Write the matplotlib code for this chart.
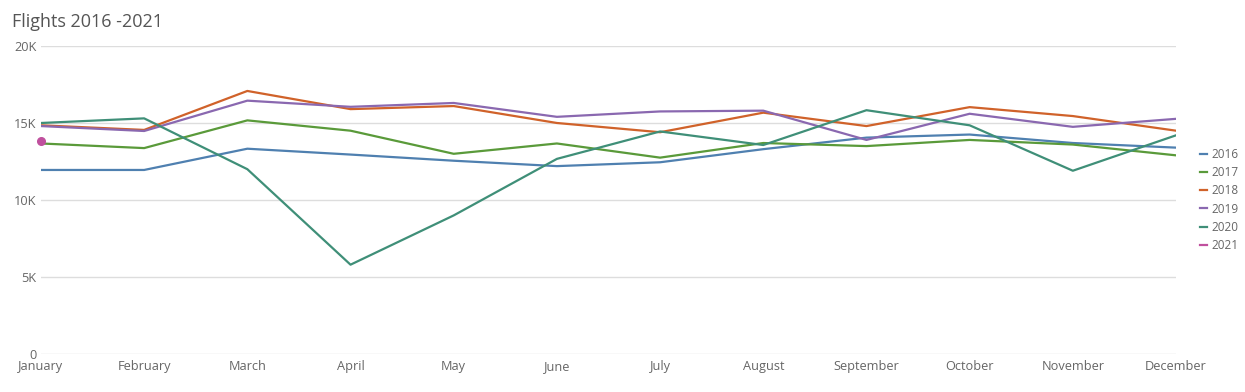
import numpy as np
import matplotlib
matplotlib.use('Agg')
import matplotlib.pyplot as plt
from matplotlib.ticker import FuncFormatter

plt.rcParams['font.family'] = ['Open Sans', 'DejaVu Sans']

# Monthly flight counts
months = ['January', 'February', 'March', 'April', 'May', 'June',
          'July', 'August', 'September', 'October', 'November', 'December']
flights_2016 = [11950, 11950, 13330, 12950, 12550, 12200,
                12450, 13300, 14050, 14250, 13700, 13400]
flights_2017 = [13670, 13370, 15170, 14500, 13000, 13670,
                12750, 13700, 13500, 13900, 13600, 12900]
flights_2018 = [14850, 14550, 17080, 15900, 16100, 15000,
                14400, 15670, 14800, 16030, 15450, 14500]
flights_2019 = [14800, 14480, 16450, 16050, 16300, 15400,
                15750, 15800, 13900, 15600, 14750, 15270]
flights_2020 = [15000, 15300, 12000, 5800, 9000, 12670,
                14450, 13570, 15830, 14850, 11900, 14200]
flights_2021 = [13850]

series = [
    ('2016', flights_2016, '#4f80b0'),
    ('2017', flights_2017, '#5a9a3a'),
    ('2018', flights_2018, '#d0622a'),
    ('2019', flights_2019, '#8a68b0'),
    ('2020', flights_2020, '#3f8f78'),
    ('2021', flights_2021, '#c0509e'),
]

fig = plt.figure(figsize=(12.45, 3.92), dpi=100)
ax = fig.add_axes([0.0329, 0.0969, 0.9117, 0.7858])

x = np.arange(len(months))
for label, values, color in series:
    if len(values) == 1:
        ax.plot(x[:1], values, color=color, marker='o', markersize=5.5,
                linestyle='none', label=label, zorder=4, clip_on=False)
    else:
        ax.plot(x[:len(values)], values, color=color, linewidth=1.6,
                label=label, zorder=3)

ax.set_xlim(0, len(months) - 1)
ax.set_ylim(0, 20000)
ax.set_yticks([0, 5000, 10000, 15000, 20000])
ax.yaxis.set_major_formatter(FuncFormatter(lambda v, p: '0' if v == 0 else f'{int(v/1000)}K'))
ax.set_xticks(x)
ax.set_xticklabels(months)
ax.tick_params(axis='both', length=0, labelsize=9.2, labelcolor='#666666')
ax.tick_params(axis='y', pad=3)
ax.tick_params(axis='x', pad=4)

ax.grid(axis='y', color='#dddddd', linewidth=1)
ax.set_axisbelow(True)
for s in ax.spines.values():
    s.set_visible(False)

fig.text(0.0096, 0.945, 'Flights 2016 -2021', fontsize=13, color='#555555',
         ha='left', va='center')

handles = [plt.Line2D([], [], color=c, linewidth=1.6) for _, _, c in series]
labels = [s[0] for s in series]
leg = fig.legend(handles, labels, loc='center left',
                 bbox_to_anchor=(0.955, 0.49), frameon=False,
                 handlelength=0.6, handletextpad=0.4, labelspacing=0.45,
                 fontsize=8.5, labelcolor='#666666')

fig.savefig('out.png', dpi=100)
